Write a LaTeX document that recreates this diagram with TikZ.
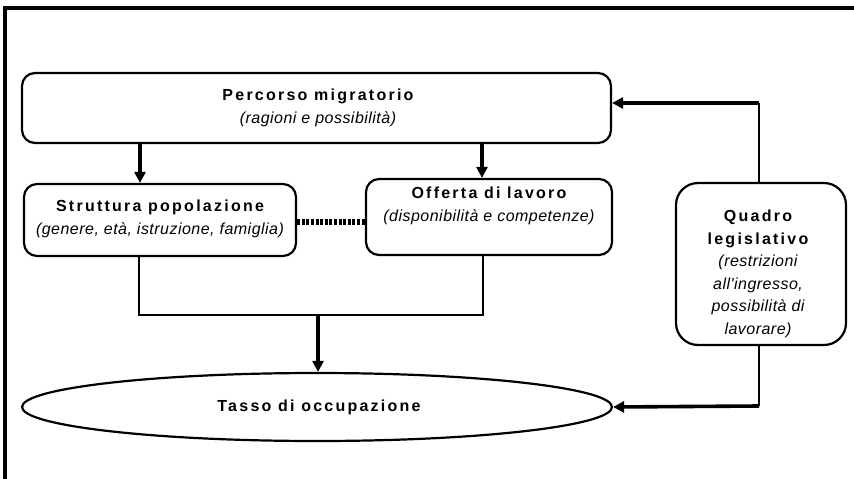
\documentclass[tikz,border=0pt]{standalone}
\usepackage{fontspec}
\setmainfont{Liberation Sans}
\usetikzlibrary{arrows.meta,shapes.geometric}
\newfontfamily\bsp[LetterSpace=14]{Liberation Sans}
\newfontfamily\isp[LetterSpace=3]{Liberation Sans}
\newcommand{\tb}[1]{{\bsp\bfseries #1}}
\newcommand{\ti}[1]{{\isp\itshape #1}}
\tikzset{
  box/.style={draw, line width=2.2pt, rounded corners=13pt, inner sep=0pt},
  txt/.style={align=center, inner sep=0pt, font=\fontsize{16}{22.5}\selectfont},
  arr/.style={line width=3.6pt, -{Triangle[length=11pt,width=11pt]}},
  thinline/.style={line width=1.4pt},
  frameline/.style={line width=3.4pt}
}
\begin{document}
\begin{tikzpicture}[x=1pt,y=-1pt]
\useasboundingbox (0,0) rectangle (854,479);
% outer frame
\draw[frameline] (5,479) -- (5,8) -- (854,8);

% boxes
\node[box, minimum width=589pt, minimum height=70pt] (perc) at (316.5,108) {};
\node[txt] (perct) at (318,108) {\tb{Percorso migratorio}\\ \ti{(ragioni e possibilità)}};

\node[box, minimum width=272pt, minimum height=72pt] (strut) at (160,220) {};
\node[txt] (strutt) at (160,219) {\tb{Struttura popolazione}\\ \ti{(genere, età, istruzione, famiglia)}};

\node[box, minimum width=246pt, minimum height=76pt] (off) at (489,217) {};
\node[txt] (offt) at (489,206) {\tb{Offerta di lavoro}\\ \ti{(disponibilità e competenze)}};

\node[box, rounded corners=22pt, minimum width=170pt, minimum height=162pt] (quad) at (761,264) {};
\node[txt] (quadt) at (758,274) {\tb{Quadro}\\ \tb{legislativo}\\ \ti{(restrizioni}\\ \ti{all'ingresso,}\\ \ti{possibilità di}\\ \ti{lavorare)}};

\node[ellipse, draw, line width=2.2pt, minimum width=590pt, minimum height=68pt, inner sep=0pt] (ell) at (317,407) {};
\node[txt] (ellt) at (319,407) {\tb{Tasso di occupazione}};

% helper coordinates
\coordinate (a1) at (140,0);
\coordinate (a2) at (482,0);
\coordinate (j1) at (139,315);
\coordinate (j2) at (483,315);
\coordinate (jm) at (318,315);
\coordinate (q1) at (759,103);
\coordinate (q2) at (759,406);

% arrows from Percorso
\draw[arr] (perc.south -| a1) -- (strut.north -| a1);
\draw[arr] (perc.south -| a2) -- (off.north -| a2);

% dotted link
\draw[line width=5.5pt, dash pattern=on 3pt off 1.6pt] (strut.east |- 0,222) -- (off.west |- 0,222);

% junction lines
\draw[thinline] (strut.south -| j1) -- (j1) -- (j2) -- (off.south -| j2);
\draw[arr] (jm) -- (ell.north -| jm);

% legislative links
\draw[thinline] (quad.north -| q1) -- (q1);
\draw[arr] (q1) -- (q1 -| perc.east);
\draw[thinline] (quad.south -| q2) -- (q2);
\draw[arr] (q2) -- (ell.east);
\end{tikzpicture}
\end{document}
